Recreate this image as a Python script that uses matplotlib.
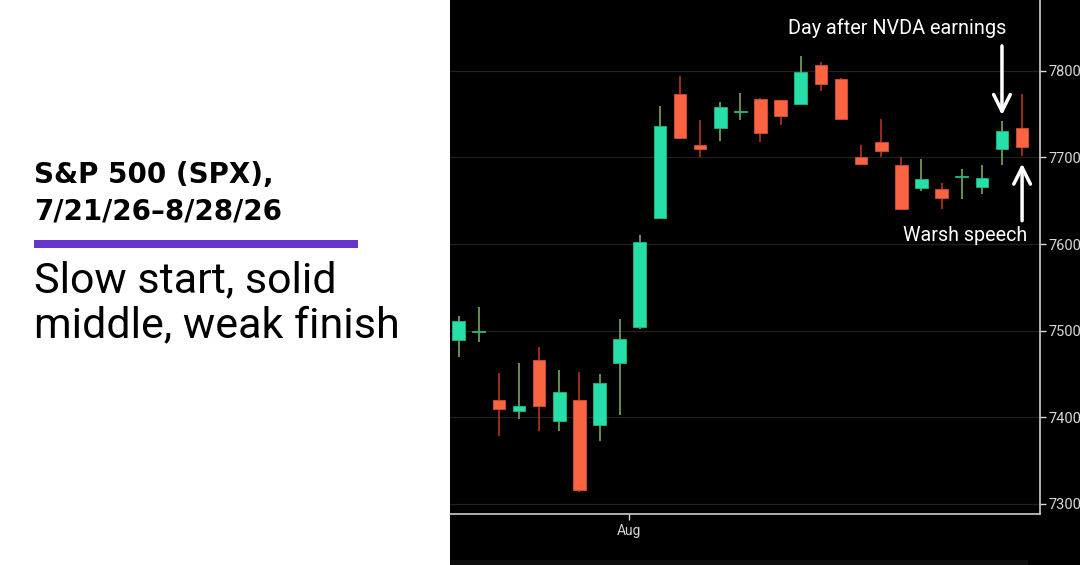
import matplotlib
matplotlib.use("Agg")
import matplotlib.pyplot as plt
import numpy as np

# SPX daily candles, 7/21/26 - 8/28/26
dates = ["7/21", "7/22", "7/23", "7/24", "7/27", "7/28", "7/29", "7/30", "7/31",
         "8/3", "8/4", "8/5", "8/6", "8/7", "8/10", "8/11", "8/12", "8/13", "8/14",
         "8/17", "8/18", "8/19", "8/20", "8/21", "8/24", "8/25", "8/26", "8/27", "8/28"]
opens = [7489, 7498, 7420, 7407, 7466, 7396, 7420, 7391, 7462,
         7504, 7630, 7773, 7714, 7734, 7752, 7768, 7766, 7762, 7807,
         7791, 7700, 7718, 7691, 7665, 7664, 7677, 7666, 7710, 7734]
highs = [7517, 7527, 7451, 7463, 7481, 7454, 7452, 7450, 7513,
         7611, 7759, 7794, 7743, 7764, 7774, 7769, 7767, 7817, 7810,
         7792, 7715, 7744, 7700, 7698, 7671, 7687, 7691, 7742, 7773]
lows = [7470, 7487, 7378, 7398, 7384, 7384, 7314, 7372, 7402,
        7502, 7629, 7721, 7700, 7719, 7743, 7718, 7738, 7762, 7777,
        7744, 7691, 7701, 7640, 7661, 7640, 7652, 7658, 7691, 7702]
closes = [7511, 7500, 7409, 7413, 7413, 7429, 7316, 7439, 7490,
          7602, 7736, 7723, 7710, 7758, 7754, 7728, 7748, 7799, 7785,
          7745, 7692, 7708, 7641, 7675, 7653, 7679, 7676, 7731, 7712]
yticks = [7300, 7400, 7500, 7600, 7700, 7800]

title_lines = ["S&P 500 (SPX),", "7/21/26\u20138/28/26"]
subtitle_lines = ["Slow start, solid", "middle, weak finish"]

UP = "#27e0a9"
DOWN = "#fb6442"
UP_WICK = "#6f9a55"
DOWN_WICK = "#a8301c"

W, H = 1080, 565
fig = plt.figure(figsize=(W / 100, H / 100), dpi=100)
fig.patch.set_facecolor("white")

# black chart panel behind the axes
bg = fig.add_axes([450 / W, 0, 1 - 450 / W, 1])
bg.set_facecolor("black")
bg.axis("off")
bg.add_patch(plt.Rectangle((0, 0), 1, 1, transform=bg.transAxes, facecolor="black", edgecolor="none"))
bg.add_patch(plt.Rectangle((0, 0), (1028 - 450) / (W - 450), 5 / H, transform=bg.transAxes,
                           facecolor="#0e0e0e", edgecolor="none"))

ax = fig.add_axes([450 / W, (H - 514) / H, (1040 - 450) / W, 514 / H])
ax.set_facecolor("black")

x = np.arange(len(dates))
o = np.array(opens)
c = np.array(closes)
up = c >= o
bottom = np.minimum(o, c)
height = np.maximum(np.abs(c - o), 2)

ax.vlines(x[up], np.array(lows)[up], np.array(highs)[up], color=UP_WICK, lw=1.3, zorder=2)
ax.vlines(x[~up], np.array(lows)[~up], np.array(highs)[~up], color=DOWN_WICK, lw=1.3, zorder=2)
ax.bar(x[up], height[up], 0.63, bottom=bottom[up], color=UP, edgecolor="#1fb888", lw=0.6, zorder=3)
ax.bar(x[~up], height[~up], 0.63, bottom=bottom[~up], color=DOWN, edgecolor="#d4502f", lw=0.6, zorder=3)

ax.set_xlim(-0.43, 28.89)
ax.set_ylim(7288, 7882)

ax.set_yticks(yticks)
ax.yaxis.tick_right()
ax.tick_params(axis="y", colors="#d8d8d8", labelsize=10.5, length=4, width=1, pad=2)
ax.set_xticks([8.48])
ax.set_xticklabels(["Aug"])
ax.tick_params(axis="x", colors="#d8d8d8", labelsize=10, length=4, width=1, pad=3)
for lab in ax.get_yticklabels() + ax.get_xticklabels():
    lab.set_family("Roboto")
ax.grid(axis="y", color="#202020", lw=0.9, zorder=0)

for side in ["left", "top"]:
    ax.spines[side].set_visible(False)
for side in ["right", "bottom"]:
    ax.spines[side].set_color("#cfcfcf")
    ax.spines[side].set_linewidth(1.2)

# annotations
arrow = dict(arrowstyle="->", color="white", lw=2.5, mutation_scale=30, shrinkA=0, shrinkB=0)
ax.annotate("", xy=(27, 7749), xytext=(27, 7829), arrowprops=arrow)
ax.annotate("", xy=(28, 7693), xytext=(28, 7627), arrowprops=arrow)
fig.text(897 / W, 1 - 28 / H, "Day after NVDA earnings", color="white", fontsize=14.3,
         family="Roboto", ha="center", va="center")
fig.text(965 / W, 1 - 236 / H, "Warsh speech", color="white", fontsize=14.2,
         family="Roboto", ha="center", va="center")

# left text panel
for txt, base in zip(title_lines, [183, 220]):
    fig.text(34 / W, 1 - base / H, txt, color="black", fontsize=20, fontweight="bold",
             family="DejaVu Sans", ha="left", va="baseline")
fig.patches.append(plt.Rectangle((34 / W, 1 - 248 / H), (358 - 34) / W, 8 / H,
                                 transform=fig.transFigure, facecolor="#6535cc",
                                 edgecolor="none"))
for txt, base in zip(subtitle_lines, [292, 337]):
    fig.text(34 / W, 1 - base / H, txt, color="black", fontsize=31,
             family="Roboto", ha="left", va="baseline")

fig.savefig("out.png", dpi=100, facecolor=fig.get_facecolor())
